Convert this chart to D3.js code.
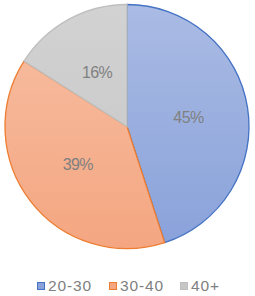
<!DOCTYPE html>
<html>
<head>
<meta charset="utf-8">
<script src="https://cdn.jsdelivr.net/npm/d3@7"></script>
<style>
  body { margin: 0; background: #fff; }
  svg text { font-family: "Liberation Sans", Arial, sans-serif; }
</style>
</head>
<body>
<div class="container"></div>
<script>
var categories = ["20-30", "30-40", "40+"];
var values = [45, 39, 16];
var fillTop = ["#aabbe4", "#f7bfa3", "#d2d2d2"];
var fillBottom = ["#89a2da", "#f4a681", "#c6c6c6"];
var strokes = ["#4472c4", "#ed7d31", "#bfbfbf"];

var svgWidth = 255;
var svgHeight = 296;
var cx = 127, cy = 126.5, radius = 122;

var svg = d3.select(".container")
    .append("svg")
    .attr("width", svgWidth)
    .attr("height", svgHeight);

var defs = svg.append("defs");
categories.forEach(function (c, i) {
    var g = defs.append("linearGradient")
        .attr("id", "grad" + i)
        .attr("gradientUnits", "userSpaceOnUse")
        .attr("x1", 0).attr("y1", -radius)
        .attr("x2", 0).attr("y2", radius);
    g.append("stop").attr("offset", "0%").attr("stop-color", fillTop[i]);
    g.append("stop").attr("offset", "100%").attr("stop-color", fillBottom[i]);
});

var pie = d3.pie().sort(null).value(function (d) { return d; });
var arc = d3.arc().innerRadius(0).outerRadius(radius);
var labelArc = d3.arc().innerRadius(radius * 0.51).outerRadius(radius * 0.51);

var chartGroup = svg.append("g")
    .attr("transform", `translate(${cx}, ${cy})`);

var slices = pie(values);

chartGroup.selectAll(".slice")
    .data(slices)
    .enter()
    .append("path")
    .classed("slice", true)
    .attr("d", arc)
    .attr("fill", function (d, i) { return "url(#grad" + i + ")"; })
    .attr("stroke", function (d, i) { return strokes[i]; })
    .attr("stroke-width", 1.3);

chartGroup.selectAll(".lbl")
    .data(slices)
    .enter()
    .append("text")
    .classed("lbl", true)
    .attr("transform", function (d) { return `translate(${labelArc.centroid(d)})`; })
    .attr("text-anchor", "middle")
    .attr("dy", "0.36em")
    .attr("font-size", "16px")
    .attr("letter-spacing", "-0.6px")
    .attr("fill", "#808080")
    .text(function (d) { return d.value + "%"; });

// legend
var legendX = [37, 109, 180];
var legend = svg.append("g");
categories.forEach(function (c, i) {
    legend.append("rect")
        .attr("x", legendX[i] + 0.5)
        .attr("y", 282.5)
        .attr("width", 7)
        .attr("height", 7)
        .attr("fill", fillBottom[i])
        .attr("stroke", strokes[i])
        .attr("stroke-width", 1);
    legend.append("text")
        .attr("x", legendX[i] + 11)
        .attr("y", 290.5)
        .attr("font-size", "15.5px")
        .attr("letter-spacing", "0.9px")
        .attr("fill", "#808080")
        .text(c);
});
</script>
</body>
</html>
